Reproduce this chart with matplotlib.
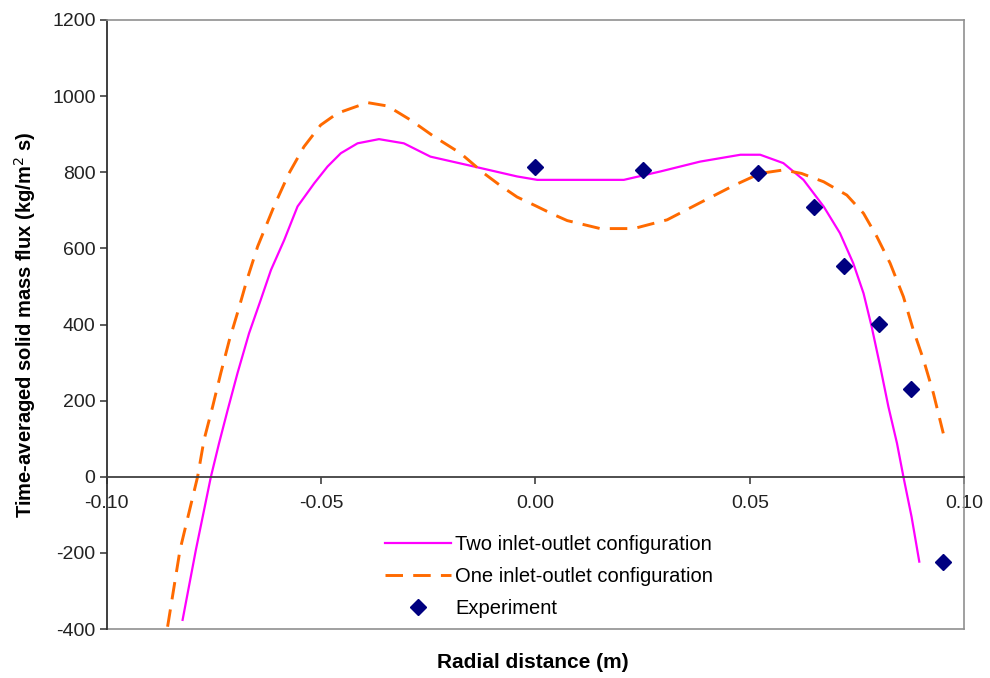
import matplotlib
matplotlib.use("Agg")
import matplotlib.pyplot as plt

plt.rcParams['font.family'] = ['Liberation Sans', 'DejaVu Sans']
plt.rcParams['axes.unicode_minus'] = False

# Two inlet-outlet configuration (solid magenta)
two_x = [-0.0823, -0.0792, -0.0757, -0.0738, -0.0718, -0.0695, -0.0668, -0.0641,
         -0.0617, -0.0586, -0.0555, -0.0516, -0.0485, -0.0454, -0.0415, -0.0365,
         -0.0307, -0.0245, -0.0151, -0.0043, 0.0004, 0.0206, 0.0291, 0.0384,
         0.0478, 0.0524, 0.0578, 0.0625, 0.0672, 0.0710, 0.0741, 0.0765, 0.0784,
         0.0804, 0.0823, 0.0843, 0.0858, 0.0877, 0.0895]
two_y = [-376, -192, 0, 88, 175, 272, 377, 464,
         543, 622, 710, 771, 815, 850, 876, 887,
         876, 841, 817, 789, 780, 780, 802, 828,
         846, 846, 824, 780, 710, 640, 561, 482, 394,
         289, 184, 88, 0, -105, -223]

# One inlet-outlet configuration (dashed orange)
one_x = [-0.0858, -0.0829, -0.0788, -0.0773, -0.0753, -0.0734, -0.0714, -0.0693,
         -0.0673, -0.0648, -0.0610, -0.0575, -0.0540, -0.0501, -0.0462, -0.0392,
         -0.0345, -0.0291, -0.0237, -0.0175, -0.0120, -0.0082, -0.0043, 0.0000,
         0.0040, 0.0074, 0.0151, 0.0229, 0.0307, 0.0384, 0.0462, 0.0524, 0.0578,
         0.0620, 0.0672, 0.0726, 0.0765, 0.0796, 0.0827, 0.0858, 0.0881, 0.0905,
         0.0928, 0.0951]
one_y = [-394, -192, 0, 97, 184, 272, 359, 438,
         517, 605, 710, 797, 867, 924, 955, 983,
         974, 937, 894, 850, 797, 765, 735, 712,
         690, 673, 652, 652, 675, 720, 765, 797, 806,
         797, 775, 740, 692, 631, 561, 473, 386, 307,
         219, 114]

# Experiment (navy diamonds)
exp_x = [0.0, 0.025, 0.052, 0.065, 0.072, 0.080, 0.0875, 0.095]
exp_y = [813, 806, 797, 708, 555, 401, 230, -225]

x_ticks = [-0.10, -0.05, 0.00, 0.05, 0.10]
x_tick_labels = ['-0.10', '-0.05', '0.00', '0.05', '0.10']
y_ticks = [-400, -200, 0, 200, 400, 600, 800, 1000, 1200]

fig = plt.figure(figsize=(9.9, 6.78), dpi=100)
ax = fig.add_axes([106.7/990, 1-629/678, (964.3-106.7)/990, (629-20)/678])

ax.plot(two_x, two_y, color='#FF00FF', lw=1.6, label='Two inlet-outlet configuration')
ax.plot(one_x, one_y, color='#FF6A00', lw=2.1, dashes=(6, 3.5), label='One inlet-outlet configuration')
ax.plot(exp_x, exp_y, linestyle='none', marker='D', ms=8.5, color='#000080', label='Experiment')

ax.set_xlim(-0.10, 0.10)
ax.set_ylim(-400, 1200)
ax.set_xticks(x_ticks)
ax.set_xticklabels(x_tick_labels)
ax.set_yticks(y_ticks)
ax.set_yticklabels([str(v) for v in y_ticks])

ax.spines['bottom'].set_position(('data', 0))
ax.spines['bottom'].set_color('#404040')
ax.spines['bottom'].set_linewidth(1.3)
ax.spines['left'].set_color('#303030')
ax.spines['left'].set_linewidth(1.3)
for s in ['top', 'right']:
    ax.spines[s].set_color('#909090')
    ax.spines[s].set_linewidth(1.2)
ax.axhline(-400, color='#909090', lw=1.2, clip_on=False, zorder=0.5)

ax.tick_params(axis='both', direction='out', length=5, width=1.1, color='#303030',
               labelsize=14, labelcolor='#222222')
ax.tick_params(axis='x', pad=8)
ax.tick_params(axis='y', pad=3)

ax.set_ylabel('Time-averaged solid mass flux (kg/m$^2$ s)', fontsize=14.5,
              fontweight='bold', labelpad=10)
fig.text(533/990, 1-662/678, 'Radial distance (m)', fontsize=15, fontweight='bold',
         ha='center', va='center')

leg = ax.legend(loc='upper left', bbox_to_anchor=(385/990, 1-535/678),
                bbox_transform=fig.transFigure, frameon=False, fontsize=14.5,
                handlelength=3.3, handletextpad=0.2, labelspacing=0.65,
                borderaxespad=0, borderpad=0)

fig.savefig('out.png', dpi=100)
